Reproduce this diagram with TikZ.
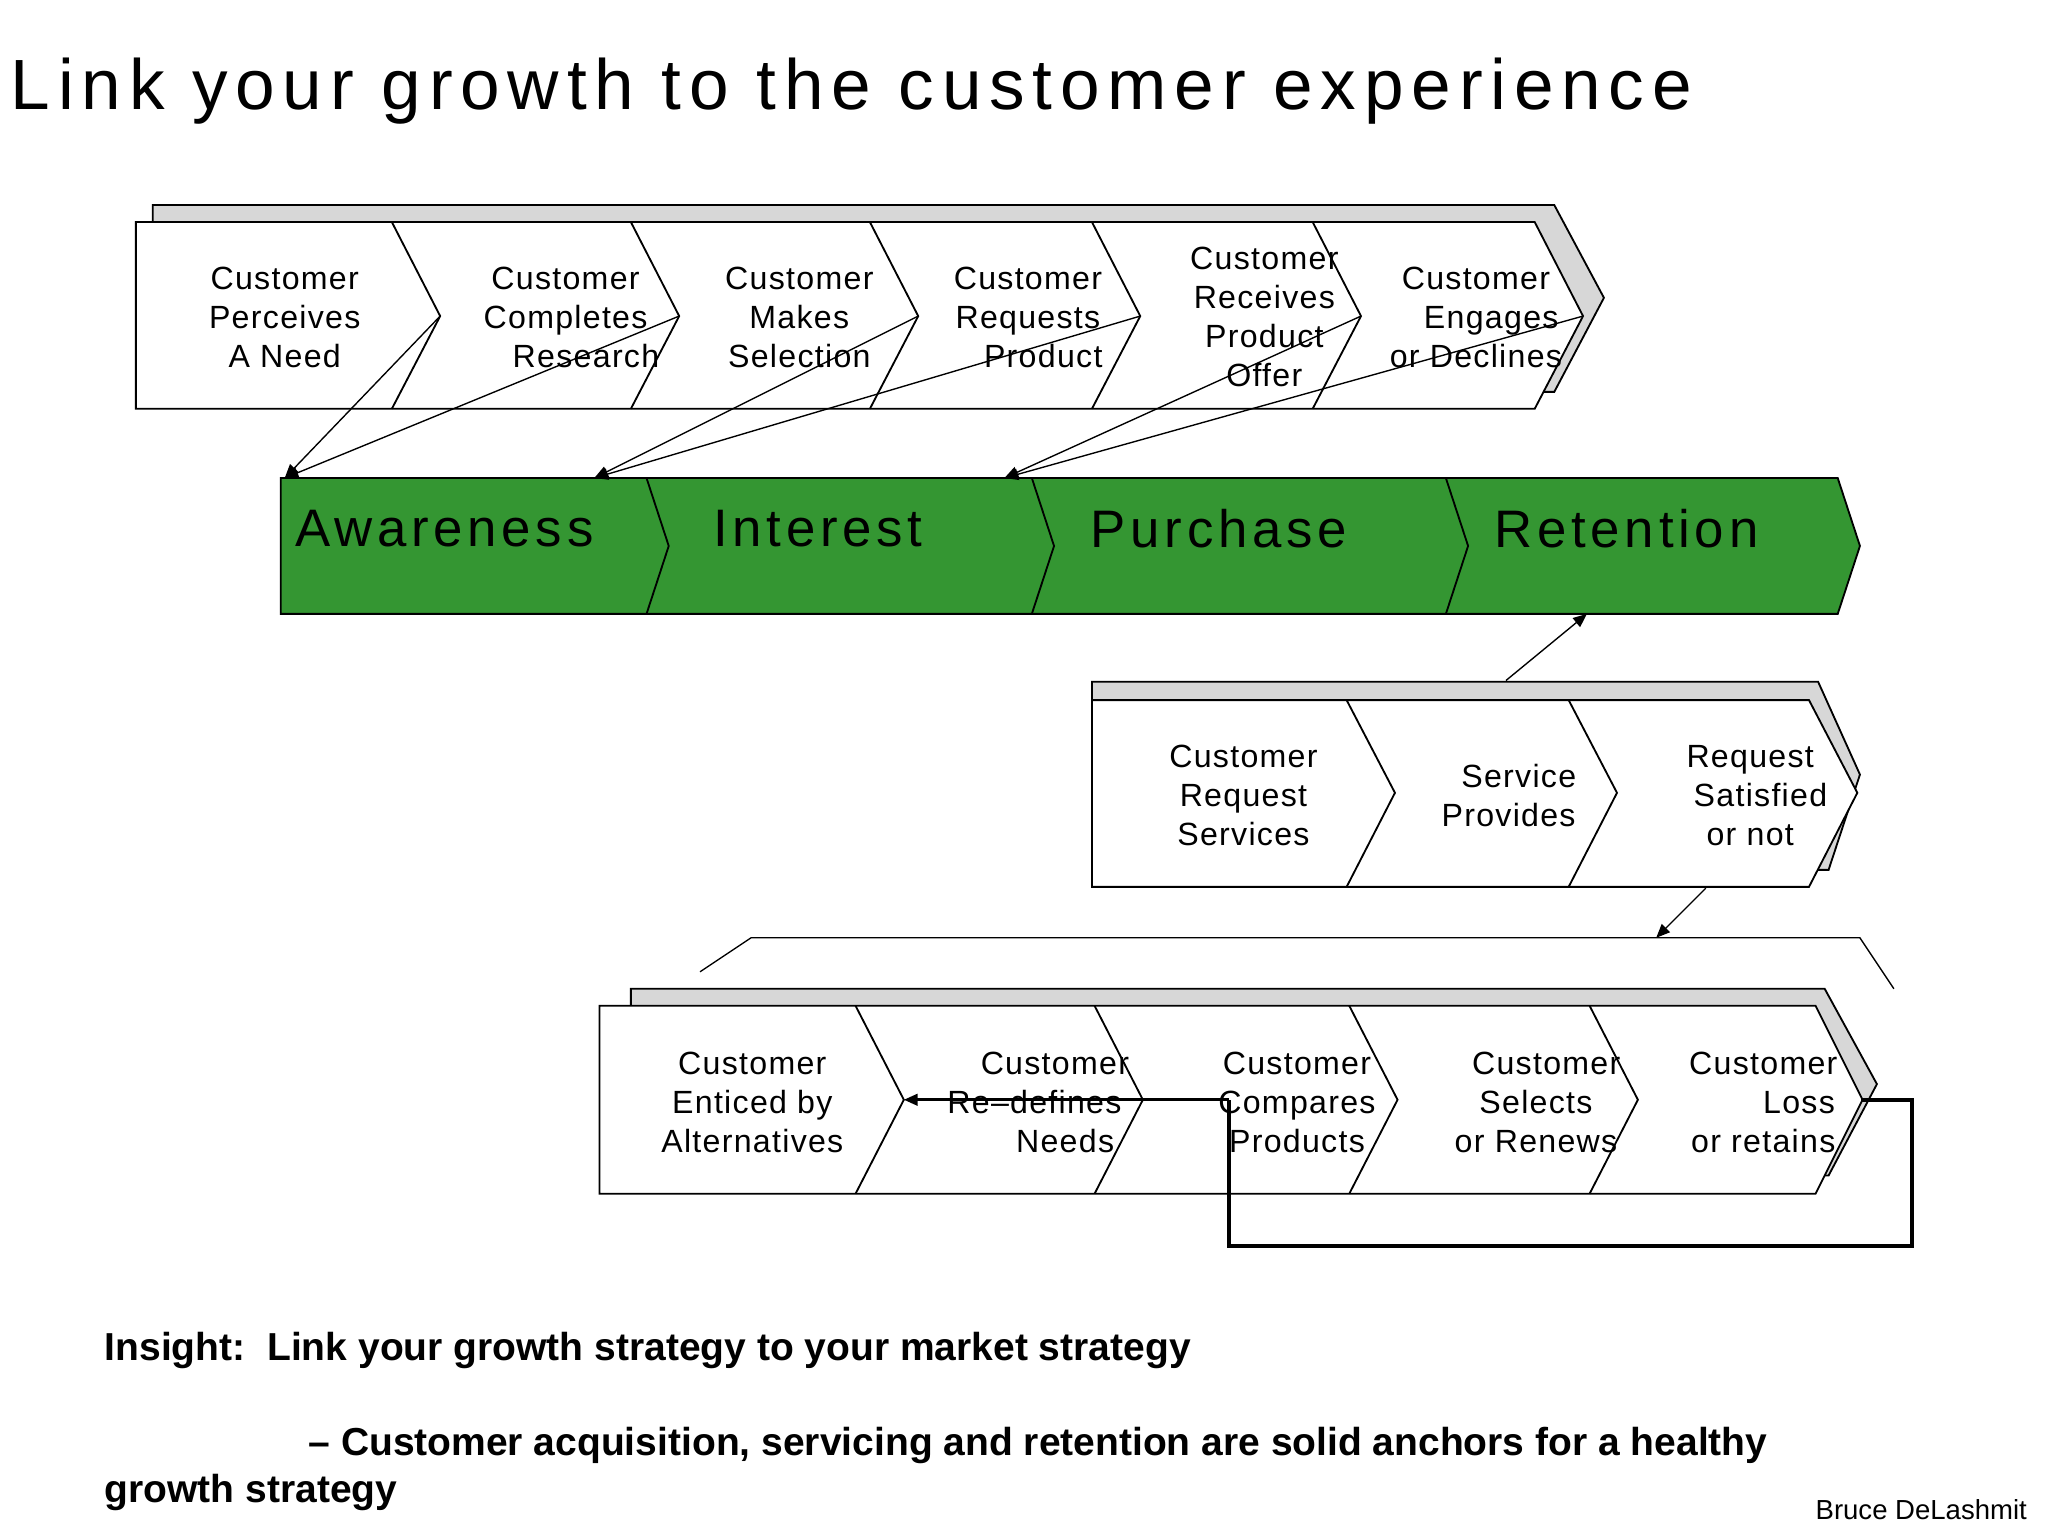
\documentclass[tikz,border=0pt]{standalone}
\usepackage{fontspec}
\setmainfont{Liberation Sans}
\usetikzlibrary{arrows.meta}
\definecolor{stagegreen}{RGB}{52,150,50}
\definecolor{shade}{RGB}{215,215,215}
\begin{document}
\begin{tikzpicture}[x=0.02cm,y=-0.02cm,
  box/.style={draw=black,fill=white,line width=0.8pt},
  shad/.style={draw=black,fill=shade,line width=0.8pt},
  stp/.style={align=center,font=\fontsize{14}{17}\selectfont\addfontfeature{LetterSpace=4}},
  stage/.style={anchor=west,font=\fontsize{23}{26}\selectfont\addfontfeature{LetterSpace=9}},
  link/.style={-{Triangle[length=6pt,width=5pt]},line width=0.6pt}]
\useasboundingbox (0,0) rectangle (1568,1176);
% title
\node[anchor=west,font=\fontsize{31}{36}\selectfont\addfontfeature{LetterSpace=11}] (title) at (2,70) {Link your growth to the customer experience};

% top row
\fill[shad] (117,157)--(1190,157)--(1228,228)--(1190,300)--(117,300)--cycle;
\draw[box] (104,170)--(1175,170)--(1212,242)--(1175,313)--(104,313)--cycle;
\foreach \x in {300,483,666,836,1005}{\draw[line width=0.8pt] (\x,170)--(\x+37,242)--(\x,313);}
\coordinate (t1) at (337,242); \coordinate (t2) at (520,242); \coordinate (t3) at (703,242);
\coordinate (t4) at (873,242); \coordinate (t5) at (1042,242); \coordinate (t6) at (1212,242);
\node[stp] (s1) at (218,243) {Customer\\Perceives\\A Need};
\node[stp] (s2) at (433,243) {Customer\\Completes\\\ \ \ \ Research};
\node[stp] (s3) at (612,243) {Customer\\Makes\\Selection};
\node[stp] (s4) at (787,243) {Customer\\Requests\\\ \ \ Product};
\node[stp] (s5) at (968,243) {Customer\\Receives\\Product\\Offer};
\node[stp] (s6) at (1130,243) {Customer\\\ \ \ Engages\\or Declines};

% stage bar
\draw[fill=stagegreen,line width=0.8pt] (215,366)--(1407,366)--(1424,418)--(1407,470)--(215,470)--cycle;
\foreach \x in {495,790,1107}{\draw[line width=0.8pt] (\x,366)--(\x+17,418)--(\x,470);}
\node[stage] (aw) at (220,405) {Awareness};
\node[stage] (in) at (540,405) {Interest};
\node[stage] (pu) at (829,405) {Purchase};
\node[stage] (re) at (1138,405) {Retention};
\coordinate (a1) at (218,366); \coordinate (a2) at (455,366); \coordinate (a3) at (769,366);
\draw[link] (t1)--(a1); \draw[link] (t2)--(a1);
\draw[link] (t3)--(a2); \draw[link] (t4)--(a2);
\draw[link] (t5)--(a3); \draw[link] (t6)--(a3);

% service row
\fill[shad] (836,522)--(1392,522)--(1424,593)--(1400,666)--(836,666)--cycle;
\draw[box] (836,536)--(1385,536)--(1422,607)--(1385,679)--(836,679)--cycle;
\foreach \x in {1031,1201}{\draw[line width=0.8pt] (\x,536)--(\x+37,607)--(\x,679);}
\node[stp] (m1) at (952,609) {Customer\\Request\\Services};
\node[stp] (m2) at (1155,609) {\ \ Service\\Provides};
\node[stp] (m3) at (1340,609) {Request\\\ \ Satisfied\\or not};
\coordinate (mtop) at (1153,521); \coordinate (rbot) at (1215,470);
\coordinate (mbot) at (1306,680); \coordinate (brk) at (1268,718);
\draw[link] (mtop)--(rbot);
\draw[link] (mbot)--(brk);
\draw[line width=0.6pt] (536,744)--(575,718)--(1424,718)--(1450,757);

% retention row
\fill[shad] (483,757)--(1397,757)--(1437,830)--(1400,900)--(483,900)--cycle;
\draw[box] (459,770)--(1390,770)--(1426,842)--(1390,914)--(459,914)--cycle;
\foreach \x in {655,838,1033,1217}{\draw[line width=0.8pt] (\x,770)--(\x+37,842)--(\x,914);}
\node[stp] (b1) at (576,844) {Customer\\Enticed by\\Alternatives};
\node[stp] (b2) at (792,844) {\ \ \ \ Customer\\Re--defines\\\ \ \ \ \ \ Needs};
\node[stp] (b3) at (993,844) {Customer\\Compares\\Products};
\node[stp] (b4) at (1176,844) {\ \ Customer\\Selects\\or Renews};
\node[stp] (b5) at (1350,844) {Customer\\\ \ \ \ \ \ \ Loss\\or retains};
\coordinate (l0) at (1425,842); \coordinate (l1) at (1464,842); \coordinate (l2) at (1464,954);
\coordinate (l3) at (941,954); \coordinate (l4) at (941,842); \coordinate (l5) at (692,842);
\draw[line width=1.6pt] (l0)--(l1)--(l2)--(l3)--(l4);
\draw[link,line width=1.2pt] (l4)--(l5);

% insight
\node[anchor=west,font=\fontsize{17}{20}\selectfont\bfseries] (ins) at (74,1034) {Insight:\ \ Link your growth strategy to your market strategy};
\node[anchor=west,font=\fontsize{17}{20}\selectfont\bfseries] (ins2) at (230,1107) {-- Customer acquisition, servicing and retention are solid anchors for a healthy};
\node[anchor=west,font=\fontsize{17}{20}\selectfont\bfseries] (ins3) at (74,1143) {growth strategy};
\node[anchor=east,font=\fontsize{12}{14}\selectfont] (auth) at (1558,1156) {Bruce DeLashmit};
\end{tikzpicture}
\end{document}
